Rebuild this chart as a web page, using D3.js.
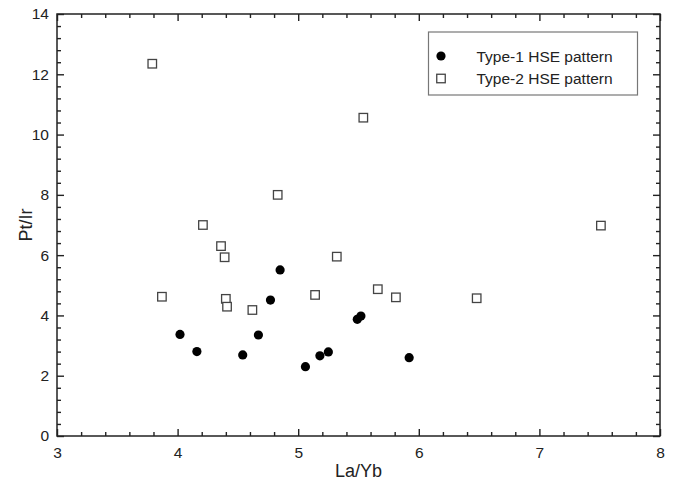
<!DOCTYPE html>
<html>
<head>
<meta charset="utf-8">
<script src="https://cdn.jsdelivr.net/npm/d3@7"></script>
<style>
  body { margin: 0; background: #fff; overflow: hidden; }
  svg { display: block; }
  text { font-family: "Liberation Sans", Arial, sans-serif; fill: #222; }
</style>
</head>
<body>
<svg id="chart" width="680" height="483" viewBox="0 0 680 483"></svg>
<script>
// Type-1 HSE pattern (filled circles)
const type1X = [4.02, 4.16, 4.54, 4.67, 4.77, 4.85, 5.06, 5.18, 5.25, 5.49, 5.52, 5.92];
const type1Y = [3.37, 2.80, 2.69, 3.35, 4.51, 5.51, 2.30, 2.66, 2.79, 3.87, 3.98, 2.60];
// Type-2 HSE pattern (open squares)
const type2X = [3.79, 3.87, 4.21, 4.36, 4.39, 4.40, 4.41, 4.62, 4.83, 5.14, 5.32, 5.54, 5.66, 5.81, 6.48, 7.51];
const type2Y = [12.35, 4.62, 7.00, 6.30, 5.93, 4.55, 4.29, 4.18, 8.00, 4.68, 5.95, 10.56, 4.87, 4.60, 4.57, 6.98];

const xTicks = [3, 4, 5, 6, 7, 8];
const yTicks = [0, 2, 4, 6, 8, 10, 12, 14];
const xMinorTicks = [3.2, 3.4, 3.6, 3.8, 4.2, 4.4, 4.6, 4.8, 5.2, 5.4, 5.6, 5.8, 6.2, 6.4, 6.6, 6.8, 7.2, 7.4, 7.6, 7.8];
const yMinorTicks = [0.4, 0.8, 1.2, 1.6, 2.4, 2.8, 3.2, 3.6, 4.4, 4.8, 5.2, 5.6, 6.4, 6.8, 7.2, 7.6,
                     8.4, 8.8, 9.2, 9.6, 10.4, 10.8, 11.2, 11.6, 12.4, 12.8, 13.2, 13.6];
const legendLabels = ['Type-1 HSE pattern', 'Type-2 HSE pattern'];

const svg = d3.select('#chart');
const margin = { top: 14, left: 57 };
const innerWidth = 660 - margin.left;
const innerHeight = 436 - margin.top;

const x = d3.scaleLinear().domain([3, 8]).range([0, innerWidth]);
const y = d3.scaleLinear().domain([0, 14]).range([innerHeight, 0]);

const g = svg.append('g').attr('transform', `translate(${margin.left}, ${margin.top})`);
const axisColor = '#222';

// draws one set of inward ticks with a d3 axis, keeps lines only
function ticks(axis, values, size, transform, withLabels) {
  const a = g.append('g').attr('transform', transform || null)
    .call(axis.tickValues(values).tickSizeInner(-size).tickSizeOuter(0).tickPadding(withLabels ? 8 + size : 0)
      .tickFormat(withLabels ? d3.format('d') : () => ''));
  a.select('.domain').remove();
  a.selectAll('.tick line').attr('stroke', axisColor).attr('stroke-width', 1.4);
  if (withLabels) {
    a.selectAll('.tick text').attr('font-size', '15.5px').attr('fill', '#222');
  } else {
    a.selectAll('.tick text').remove();
  }
  return a;
}

ticks(d3.axisBottom(x), xMinorTicks, 4, `translate(0, ${innerHeight})`, false);
ticks(d3.axisBottom(x), xTicks, 7, `translate(0, ${innerHeight})`, true);
ticks(d3.axisTop(x), xMinorTicks, 4, null, false);
ticks(d3.axisTop(x), xTicks, 7, null, false);
ticks(d3.axisLeft(y), yMinorTicks, 4, null, false);
ticks(d3.axisLeft(y), yTicks, 7, null, true);
ticks(d3.axisRight(y), yMinorTicks, 4, `translate(${innerWidth}, 0)`, false);
ticks(d3.axisRight(y), yTicks, 7, `translate(${innerWidth}, 0)`, false);

// the bottom labels sit 11px under the frame, the left ones end 8px from it
g.selectAll('.tick text').each(function () {
  const t = d3.select(this);
  if (t.attr('y') !== null && +t.attr('y') > 0) t.attr('y', 11);
  if (t.attr('x') !== null && +t.attr('x') < 0) t.attr('x', -8);
});

// frame
g.append('rect')
  .attr('width', innerWidth).attr('height', innerHeight)
  .attr('fill', 'none').attr('stroke', axisColor).attr('stroke-width', 1.5);

// axis titles
svg.append('text')
  .text('La/Yb')
  .attr('x', margin.left + innerWidth / 2).attr('y', 477)
  .attr('text-anchor', 'middle').attr('font-size', '18px');

svg.append('text')
  .text('Pt/Ir')
  .attr('transform', `translate(32, ${margin.top + innerHeight / 2}) rotate(-90)`)
  .attr('text-anchor', 'middle').attr('font-size', '18px');

// points
const t1 = type1X.map((d, i) => [d, type1Y[i]]);
const t2 = type2X.map((d, i) => [d, type2Y[i]]);
const sq = 8.5;

g.selectAll('rect.t2')
  .data(t2)
  .enter()
  .append('rect')
  .attr('class', 't2')
  .attr('x', d => x(d[0]) - sq / 2)
  .attr('y', d => y(d[1]) - sq / 2)
  .attr('width', sq).attr('height', sq)
  .attr('fill', '#fff').attr('stroke', '#444').attr('stroke-width', 1.3);

g.selectAll('circle.t1')
  .data(t1)
  .enter()
  .append('circle')
  .attr('class', 't1')
  .attr('cx', d => x(d[0]))
  .attr('cy', d => y(d[1]))
  .attr('r', 4.6)
  .attr('fill', '#000');

// legend
const lg = svg.append('g').attr('transform', 'translate(428.5, 32)');
lg.append('rect')
  .attr('width', 209).attr('height', 63)
  .attr('fill', '#fff').attr('stroke', '#777').attr('stroke-width', 1.2);
lg.append('circle').attr('cx', 12.5).attr('cy', 24).attr('r', 4.6).attr('fill', '#000');
lg.append('rect').attr('x', 12.5 - sq / 2).attr('y', 46.5 - sq / 2)
  .attr('width', sq).attr('height', sq)
  .attr('fill', '#fff').attr('stroke', '#444').attr('stroke-width', 1.3);
lg.selectAll('text.lab')
  .data(legendLabels)
  .enter()
  .append('text')
  .attr('class', 'lab')
  .attr('x', 48)
  .attr('y', (d, i) => 29.5 + i * 22.5)
  .attr('font-size', '15.5px')
  .text(d => d);
</script>
</body>
</html>
